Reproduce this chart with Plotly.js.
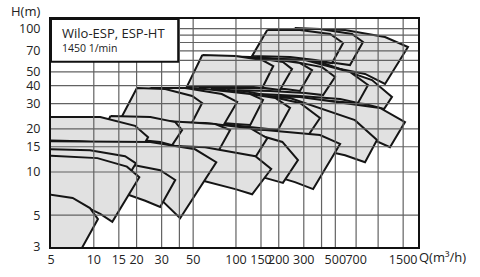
<!DOCTYPE html>
<html><head><meta charset="utf-8">
<script src="https://cdn.plot.ly/plotly-3.0.1.min.js"></script>
<style>html,body{margin:0;padding:0;background:#fff;}#chart{width:480px;height:277px;}</style>
</head><body><div id="chart"></div>
<script>
// ---- axis ticks & grid (Q in m3/h, H in m) ----
const xTickVals = [5,10,15,20,30,50,100,150,200,300,500,700,1500];
const yTickVals = [3,5,10,15,20,30,40,50,70,100];
const xGridVals = [10,15,20,30,40,50,100,150,200,300,400,500,700,1000,1500];
const yGridVals = [5,10,15,20,30,40,50,60,70,80,90,100];

// ---- pump tiles: 8 points each, top curve (left->right) then bottom curve (right->left) ----
// top band (H 60-100)
const topBandQ = [
  [260,585,1118,1622,1118,809,459,189],
  [204,390,655,783,634,498,282,153],
  [166,282,459,567,474,360,240,130]
];
const topBandH = [
  [101,97.8,87.4,74.4,41.1,48.3,53.9,58.5],
  [99.4,99.4,91.7,80.7,55.7,57.5,60.4,62.4],
  [97.8,97.8,91.7,79.3,57.5,60.4,63.4,64.5]
];
// band H 30-65
const band2Q = [
  [160,390,906,1252,1100,809,390,126],
  [137,306,634,849,722,540,282,107],
  [116,221,403,498,410,306,174,88],
  [88,160,282,343,282,221,137,68],
  [72,126,214,248,204,160,99,56],
  [58,99,153,183,153,116,72,45]
];
const band2H = [
  [61.4,58.5,43.8,33.4,27.5,29.8,31.8,33.9],
  [62.4,60.4,49.8,40.4,30.3,32.3,33.9,35.5],
  [62.4,60.4,53.9,46.0,34.4,35.5,36.7,37.3],
  [63.4,62.4,57.5,51.4,36.7,37.9,38.5,38.5],
  [64.5,63.4,58.5,52.2,37.3,38.5,39.1,39.1],
  [65.5,64.5,60.4,54.8,38.5,39.8,39.8,39.1]
];
// band H 15-40
const band3Q = [
  [91,282,1031,1545,1212,877,390,72],
  [77,240,687,982,809,585,240,60.7],
  [51.6,116,282,390,306,221,107,40.5],
  [40.5,83.8,189,240,197,148,77,31.8],
  [31.8,60.7,126,155,126,99,56,25],
  [25.0,43.9,79.5,102,79.5,60.7,34.5,19.5],
  [20.1,31.8,49.2,57.8,46.1,34.5,23.0,15.7]
];
const band3H = [
  [34.4,33.4,28.0,22.3,14.9,17.2,20.2,21.3],
  [34.4,32.8,23.0,16.7,11.7,13.1,15.9,19.6],
  [37.3,36.7,30.3,23.8,16.7,17.8,19.6,22.6],
  [37.9,37.3,32.8,28.0,19.6,20.2,21.6,23.8],
  [38.5,37.9,35.0,31.8,21.3,21.6,22.6,23.8],
  [38.5,38.5,35.0,30.8,20.2,21.0,22.3,23.8],
  [38.5,37.9,33.9,30.3,19.6,21.0,22.6,24.2]
];
// band H 8-25
const band4Q = [
  [60.7,160,390,540,349,260,137,51.6],
  [40.5,99,212,273,214,160,83.8,34.5],
  [25.0,60.7,126,166,130,99,51.6,21.2],
  [15.3,34.5,71.5,91,74.5,56,29.3,13.1],
  [13.1,25.0,37.4,41.8,35.6,29.3,18.0,11.1],
  [4.2,11.1,19.5,24.1,21.9,15.3,8.0,4.2]
];
const band4H = [
  [20.2,19.6,18.1,15.7,7.6,8.5,10.3,12.1],
  [21.0,20.2,16.2,12.1,8.4,9.1,10.5,12.1],
  [22.3,22.0,20.2,17.2,11.7,12.5,14.0,15.4],
  [23.0,22.6,21.6,19.6,13.75,14.4,15.7,16.7],
  [24.6,24.2,22.3,19.6,15.4,16.2,17.0,17.5],
  [24.2,24.2,21.0,17.5,14.9,15.7,16.4,16.7]
];
// lowest band (H 3-16)
const band5Q = [
  [25,60.7,137,177,130,99,56,23],
  [4.2,25.0,51.6,72.7,40.5,30.8,18.0,4.2],
  [13.1,17.1,29.3,37.4,29.3,23.0,17.1,11.1],
  [4.2,9.4,16.6,19.8,16.3,13.1,8.0,4.2],
  [4.2,10.6,17.1,20.9,13.5,11.1,7.4,4.2],
  [4.2,7.1,9.4,10.7,7.0,5.8,4.9,4.2]
];
const band5H = [
  [15.4,14.9,12.9,10.5,7.0,7.6,8.8,10.0],
  [16.4,16.2,14.4,11.7,4.76,6.2,7.3,8.0],
  [11.7,11.4,10.3,8.8,5.7,6.3,7.0,7.7],
  [14.5,14.2,12.9,11.5,8.4,8.8,9.4,10.0],
  [13.1,12.5,10.9,9.2,4.5,5.1,6.2,6.8],
  [7.1,6.6,5.6,4.7,2.2,2.2,2.2,2.2]
];

const bandsQ = [topBandQ, band2Q, band3Q, band4Q, band5Q];
const bandsH = [topBandH, band2H, band3H, band4H, band5H];

const traces = [];
bandsQ.forEach((band, bi) => {
  band.forEach((q, ti) => {
    const h = bandsH[bi][ti];
    traces.push({
      type: 'scatter', mode: 'lines',
      x: q.concat([q[0]]), y: h.concat([h[0]]),
      fill: 'toself', fillcolor: '#e1e1e1',
      line: {color: '#151515', width: 2},
      hoverinfo: 'skip', showlegend: false
    });
  });
});

// grid lines drawn over the tiles
const yMin = 3, yMax = 120, xMin = 5, xMax = 2000;
const gx = [], gy = [];
xGridVals.forEach(v => { gx.push(v, v, null); gy.push(yMin, yMax, null); });
yGridVals.forEach(v => { gx.push(xMin, xMax, null); gy.push(v, v, null); });
traces.push({type:'scatter', mode:'lines', x: gx, y: gy, line:{color:'#626262', width:1.2},
  hoverinfo:'skip', showlegend:false});

const font = {family: 'Open Sans, Noto Sans, sans-serif', size: 12.5, color: '#222'};
const layout = {
  width: 480, height: 277,
  margin: {l: 51, r: 62, t: 19, b: 30},
  paper_bgcolor: '#fff', plot_bgcolor: '#fff',
  font: font,
  xaxis: {type: 'log', range: [Math.log10(5), 3.2805], tickvals: xTickVals, ticktext: xTickVals.map(String),
    showgrid: false, zeroline: false, showline: true, mirror: true, linecolor: '#111', linewidth: 2,
    ticks: '', tickangle: 0, tickfont: font, fixedrange: true},
  yaxis: {type: 'log', range: [Math.log10(3), 2.067], tickvals: yTickVals, ticktext: yTickVals.map(String),
    showgrid: false, zeroline: false, showline: true, mirror: true, linecolor: '#111', linewidth: 2,
    ticks: 'outside', ticklen: 6, tickcolor: 'rgba(0,0,0,0)', tickfont: font, fixedrange: true},
  shapes: [{type: 'rect', xref: 'paper', yref: 'paper', x0: 0, x1: 0.3466, y0: 0.8127, y1: 1,
    fillcolor: '#fff', line: {color: '#111', width: 2}, layer: 'above'}],
  annotations: [
    {xref:'paper', yref:'paper', x:0.025, y:0.9386, xanchor:'left', yanchor:'middle', showarrow:false,
      text:'Wilo-ESP, ESP-HT', font:{family:'Open Sans, sans-serif', size:13, color:'#222'}},
    {xref:'paper', yref:'paper', x:0.025, y:0.875, xanchor:'left', yanchor:'middle', showarrow:false,
      text:'1450 1/min', font:{family:'Open Sans, sans-serif', size:10.5, color:'#222'}},
    {xref:'paper', yref:'paper', x:-0.024, y:1.035, xanchor:'right', yanchor:'middle', showarrow:false,
      text:'H(m)', font:{family:'Open Sans, sans-serif', size:13, color:'#222'}},
    {xref:'paper', yref:'paper', x:0.997, y:-0.046, xanchor:'left', yanchor:'middle', showarrow:false,
      text:'Q(m³/h)', font:{family:'Open Sans, sans-serif', size:13, color:'#222'}}
  ]
};
Plotly.newPlot('chart', traces, layout, {staticPlot: true, displayModeBar: false});
</script></body></html>
